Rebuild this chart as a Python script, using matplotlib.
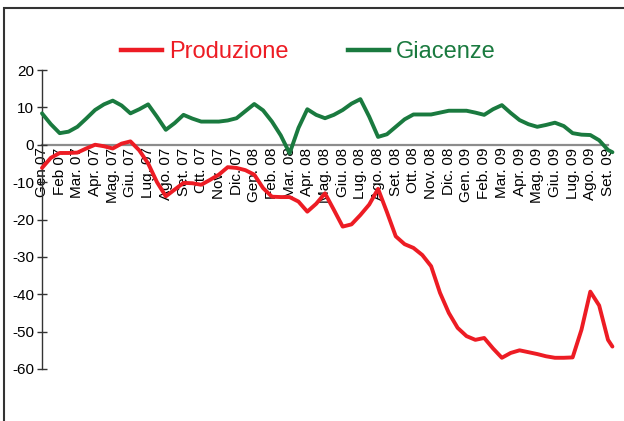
import numpy as np
import matplotlib.pyplot as plt
from matplotlib.lines import Line2D
from matplotlib.patches import Rectangle

plt.rcParams['font.family'] = ['Liberation Sans', 'DejaVu Sans']
plt.rcParams['axes.unicode_minus'] = False

RED = '#ed1c24'
GREEN = '#1a7a3f'

months = ['Gen 07', 'Feb 07', 'Mar. 07', 'Apr. 07', 'Mag. 07', 'Giu. 07', 'Lug. 07',
          'Ago. 07', 'Set. 07', 'Ott. 07', 'Nov. 07', 'Dic. 07',
          'Gen. 08', 'Feb. 08', 'Mar. 08', 'Apr. 08', 'Mag. 08', 'Giu. 08', 'Lug. 08',
          'Ago. 08', 'Set. 08', 'Ott. 08', 'Nov. 08', 'Dic. 08',
          'Gen. 09', 'Feb. 09', 'Mar. 09', 'Apr. 09', 'Mag. 09', 'Giu. 09', 'Lug. 09',
          'Ago. 09', 'Set. 09']

# half-month observations, position in month index
obs_pos = np.r_[np.arange(65) * 0.5, 32.25]

produzione = [-6.2, -3.5, -2.2, -2.2, -2.1, -1.0, 0.0, -0.4, -1.0, 0.3,
              0.9, -1.5, -5.0, -10.0, -13.8, -12.0, -10.2, -10.3, -10.7, -9.4,
              -8.0, -6.0, -6.2, -6.8, -8.0, -11.6, -13.9, -14.0, -14.0, -15.2,
              -17.9, -15.8, -13.0, -17.4, -21.9, -21.3, -18.8, -16.0, -11.8, -18.0,
              -24.5, -26.6, -27.6, -29.5, -32.5, -39.6, -45.0, -49.0, -51.2, -52.2,
              -51.7, -54.5, -57.0, -55.7, -55.0, -55.5, -56.0, -56.6, -57.0, -57.0,
              -56.9, -49.5, -39.3, -43.0, -52.2, -54.0]

giacenze = [8.4, 5.5, 3.1, 3.5, 4.8, 7.0, 9.3, 10.8, 11.8, 10.5,
            8.4, 9.5, 10.8, 7.5, 4.0, 5.8, 8.0, 7.0, 6.2, 6.2,
            6.2, 6.5, 7.1, 9.0, 10.9, 9.2, 6.2, 2.5, -2.3, 4.5,
            9.5, 8.0, 7.1, 8.0, 9.3, 11.0, 12.2, 7.5, 2.1, 2.8,
            4.8, 6.8, 8.1, 8.1, 8.1, 8.6, 9.1, 9.1, 9.1, 8.6,
            8.0, 9.5, 10.6, 8.5, 6.6, 5.5, 4.8, 5.3, 5.9, 5.0,
            3.1, 2.7, 2.6, 1.2, -1.4, -2.0]

W, H = 624, 421
fig = plt.figure(figsize=(W / 100, H / 100), dpi=100, facecolor='white')
ax = fig.add_axes([42 / W, (H - 369) / H, (614 - 42) / W, 299 / H])

x_max = (614 - 42) / ((608 - 42) / 32)
ax.set_xlim(0, x_max)
ax.set_ylim(-60, 20)

ax.plot(obs_pos, giacenze, color=GREEN, lw=2.8, solid_capstyle='round',
        solid_joinstyle='round', clip_on=False, zorder=3)
ax.plot(obs_pos, produzione, color=RED, lw=2.8, solid_capstyle='round',
        solid_joinstyle='round', clip_on=False, zorder=4)

for s in ['top', 'right']:
    ax.spines[s].set_visible(False)
ax.spines['left'].set_color('#333333')
ax.spines['left'].set_linewidth(1.0)
ax.spines['bottom'].set_position(('data', 0))
ax.spines['bottom'].set_bounds(0, len(months) - 1)
ax.spines['bottom'].set_color('#8c8c8c')
ax.spines['bottom'].set_linewidth(1.6)
ax.spines['bottom'].set_zorder(1)

ax.set_yticks(np.arange(-60, 21, 10))
ax.tick_params(axis='y', direction='inout', length=7, width=1.0, color='#333333',
               labelsize=11, pad=2)
ax.set_xticks(range(len(months)))
ax.set_xticklabels(months, rotation=90, fontsize=11, va='top', ha='center')
ax.tick_params(axis='x', length=0, pad=2)
ax.patch.set_alpha(0)

handles = [Line2D([], [], color=RED, lw=3.2), Line2D([], [], color=GREEN, lw=3.2)]
leg = fig.legend(handles, ['Produzione', 'Giacenze'], loc='center',
                 bbox_to_anchor=(0.494, 1 - 52 / H), ncol=2, frameon=False,
                 fontsize=17, handlelength=1.75, handletextpad=0.3,
                 columnspacing=2.5)
for txt, c in zip(leg.get_texts(), [RED, GREEN]):
    txt.set_color(c)

fig.patches.append(Rectangle((4 / W, -0.1), 1.2, 1 - 8 / H + 0.1,
                             transform=fig.transFigure, fill=False,
                             edgecolor='#333333', lw=1.5))

fig.savefig('out.png', dpi=100, facecolor='white')
